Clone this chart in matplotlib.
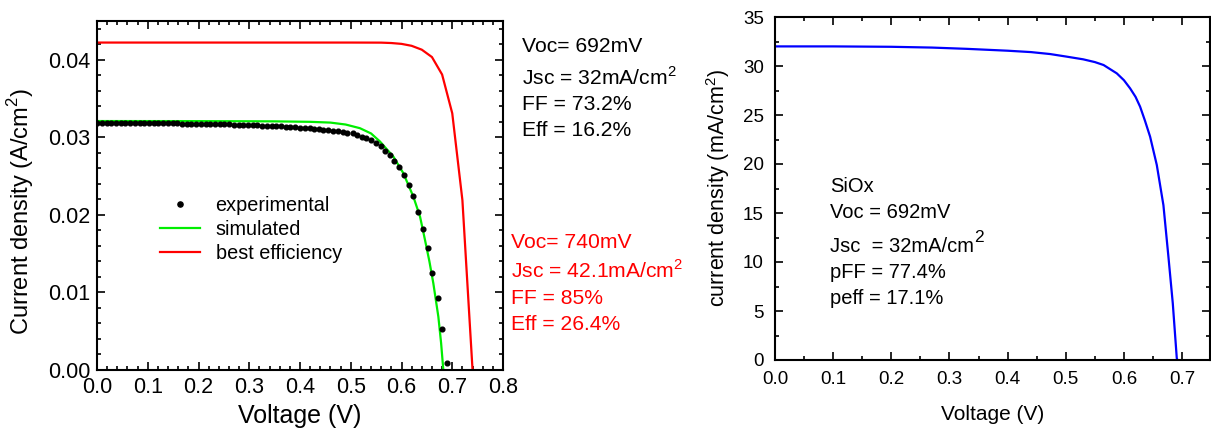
import matplotlib
matplotlib.use("Agg")
import matplotlib.pyplot as plt
from matplotlib.ticker import MultipleLocator, FormatStrFormatter

plt.rcParams['font.family'] = ['Liberation Sans', 'DejaVu Sans']
plt.rcParams['mathtext.fontset'] = 'custom'
plt.rcParams['mathtext.rm'] = 'Liberation Sans'

# ---- Left panel: measured J-V points (A/cm^2) ----
exp_voltage = [
    0.000, 0.009, 0.019, 0.028, 0.037, 0.047, 0.056, 0.065, 0.074, 0.084,
    0.093, 0.102, 0.112, 0.121, 0.130, 0.140, 0.149, 0.158, 0.167, 0.177,
    0.186, 0.195, 0.205, 0.214, 0.223, 0.233, 0.242, 0.251, 0.260, 0.270,
    0.279, 0.288, 0.298, 0.307, 0.316, 0.326, 0.335, 0.344, 0.353, 0.363,
    0.372, 0.381, 0.391, 0.400, 0.409, 0.419, 0.428, 0.437, 0.446, 0.456,
    0.465, 0.474, 0.484, 0.493, 0.504, 0.512, 0.522, 0.531, 0.540, 0.550,
    0.559, 0.568, 0.577, 0.586, 0.596, 0.605, 0.614, 0.623, 0.633, 0.642,
    0.652, 0.661, 0.671, 0.680, 0.689,
]
exp_current = [
    0.03190, 0.03190, 0.03189, 0.03189, 0.03188, 0.03188, 0.03187, 0.03187, 0.03186, 0.03186,
    0.03185, 0.03184, 0.03184, 0.03183, 0.03182, 0.03181, 0.03180, 0.03179, 0.03178, 0.03177,
    0.03176, 0.03175, 0.03174, 0.03173, 0.03172, 0.03170, 0.03169, 0.03167, 0.03166, 0.03164,
    0.03162, 0.03160, 0.03158, 0.03156, 0.03154, 0.03151, 0.03149, 0.03146, 0.03143, 0.03140,
    0.03137, 0.03133, 0.03129, 0.03125, 0.03121, 0.03116, 0.03111, 0.03105, 0.03099, 0.03092,
    0.03085, 0.03077, 0.03069, 0.03062, 0.03054, 0.03032, 0.03010, 0.02985, 0.02964, 0.02933,
    0.02886, 0.02830, 0.02770, 0.02697, 0.02623, 0.02512, 0.02383, 0.02250, 0.02039, 0.01823,
    0.01578, 0.01252, 0.00929, 0.00533, 0.00086,
]

# Simulated J-V curve (A/cm^2)
sim_voltage = [0.00, 0.20, 0.35, 0.42, 0.46, 0.49, 0.518, 0.54, 0.5576, 0.5839,
               0.6036, 0.6233, 0.6365, 0.6463, 0.655, 0.6627, 0.6726, 0.678, 0.6824]
sim_current = [0.03210, 0.03209, 0.03206, 0.03200, 0.03190, 0.03165, 0.03118, 0.03050,
               0.02946, 0.02752, 0.02538, 0.02236, 0.01978, 0.01677, 0.01400, 0.01119,
               0.00688, 0.00350, 0.0]

# Best-efficiency J-V curve (A/cm^2)
best_voltage = [0.00, 0.10, 0.20, 0.30, 0.40, 0.50, 0.56, 0.58, 0.60, 0.62,
                0.64, 0.66, 0.68, 0.70, 0.72, 0.74]
best_current = [0.04222, 0.04222, 0.04222, 0.04222, 0.04222, 0.04222, 0.04221, 0.04216,
                0.04205, 0.04180, 0.04130, 0.04035, 0.03810, 0.03310, 0.02190, 0.0]

# ---- Right panel: SiOx cell J-V (mA/cm^2) ----
siox_voltage = [0.000, 0.100, 0.200, 0.270, 0.330, 0.400, 0.440, 0.473, 0.500, 0.530,
                0.550, 0.565, 0.5877, 0.600, 0.6106, 0.620, 0.6278, 0.636, 0.645,
                0.6565, 0.6679, 0.6765, 0.684, 0.6909, 0.692]
siox_current = [32.00, 32.00, 31.96, 31.88, 31.75, 31.56, 31.42, 31.22, 30.97, 30.68,
                30.40, 30.10, 29.25, 28.55, 27.72, 26.85, 25.85, 24.45, 22.79,
                19.90, 15.80, 10.54, 5.79, 0.17, 0.0]

fig = plt.figure(figsize=(12.11, 4.33), dpi=100)

# Left panel
ax1 = fig.add_axes([97 / 1211, 63 / 433, 406 / 1211, 349 / 433])
ax1.plot(exp_voltage, exp_current, 'o', color='black', markersize=3.4,
         label='experimental', zorder=3)
ax1.plot(sim_voltage, sim_current, '-', color='#00ee00', lw=1.6, label='simulated', zorder=2)
ax1.plot(best_voltage, best_current, '-', color='#ff0000', lw=1.6,
         label='best efficiency', zorder=2)
ax1.set_xlim(0, 0.8)
ax1.set_ylim(0, 0.045)
ax1.xaxis.set_major_locator(MultipleLocator(0.1))
ax1.xaxis.set_minor_locator(MultipleLocator(0.02))
ax1.yaxis.set_major_locator(MultipleLocator(0.01))
ax1.yaxis.set_minor_locator(MultipleLocator(0.002))
ax1.xaxis.set_major_formatter(FormatStrFormatter('%.1f'))
ax1.yaxis.set_major_formatter(FormatStrFormatter('%.2f'))
ax1.tick_params(which='both', direction='in', top=True, right=True, width=1.2)
ax1.tick_params(which='major', length=6, labelsize=15.5, pad=5)
ax1.tick_params(which='minor', length=3)
for s in ax1.spines.values():
    s.set_linewidth(1.5)
ax1.set_xlabel('Voltage (V)', fontsize=18, labelpad=4)
ax1.set_ylabel('Current density (A/cm$^2$)', fontsize=17)
ax1.yaxis.set_label_coords(-0.15, 0.453)
ax1.legend(loc='upper left', bbox_to_anchor=(0.155, 0.50), frameon=False,
           fontsize=14.3, handlelength=2.0, handletextpad=0.8, labelspacing=0.26,
           borderaxespad=0, borderpad=0, markerscale=1.1)

# Device parameters beside the left panel
black_lines = ['Voc= 692mV', 'Jsc = 32mA/cm$^2$', 'FF = 73.2%', 'Eff = 16.2%']
black_y = [47, 77, 104, 130]
for t, y in zip(black_lines, black_y):
    fig.text(522 / 1211, 1 - y / 433, t, fontsize=15.2, color='black', va='center', ha='left')
red_lines = ['Voc= 740mV', 'Jsc = 42.1mA/cm$^2$', 'FF = 85%', 'Eff = 26.4%']
red_y = [242, 271, 298, 324]
for t, y in zip(red_lines, red_y):
    fig.text(511 / 1211, 1 - y / 433, t, fontsize=15.2, color='#ff0000', va='center', ha='left')

# Right panel
ax2 = fig.add_axes([775 / 1211, 73 / 433, 435 / 1211, 343 / 433])
ax2.plot(siox_voltage, siox_current, '-', color='#0000ff', lw=1.6)
ax2.set_xlim(0, 0.748)
ax2.set_ylim(0, 35)
ax2.xaxis.set_major_locator(MultipleLocator(0.1))
ax2.xaxis.set_minor_locator(MultipleLocator(0.05))
ax2.yaxis.set_major_locator(MultipleLocator(5))
ax2.yaxis.set_minor_locator(MultipleLocator(2.5))
ax2.xaxis.set_major_formatter(FormatStrFormatter('%.1f'))
ax2.tick_params(which='both', direction='in', top=True, right=True, width=1.2)
ax2.tick_params(which='major', length=6, labelsize=13.5, pad=8)
ax2.tick_params(which='minor', length=3)
for s in ax2.spines.values():
    s.set_linewidth(1.5)
ax2.set_xlabel('Voltage (V)', fontsize=15, labelpad=12)
ax2.set_ylabel('current density (mA/cm$^2$)', fontsize=15.5)
ax2.yaxis.set_label_coords(-0.098, 0.5)

siox_lines = ['SiOx', 'Voc = 692mV', 'Jsc  = 32mA/cm', 'pFF = 77.4%', 'peff = 17.1%']
siox_y = [187, 212, 247, 273, 299]
siox_text = {}
for t, y in zip(siox_lines, siox_y):
    siox_text[t] = fig.text(830 / 1211, 1 - y / 433, t, fontsize=14.5, color='black',
                            va='center', ha='left')
# Large superscript on the Jsc unit
ax2.annotate('2', xy=(1.0, 0.62), xycoords=siox_text['Jsc  = 32mA/cm'],
             fontsize=12.5, color='black', va='bottom', ha='left')

fig.savefig('out.png', dpi=100)
